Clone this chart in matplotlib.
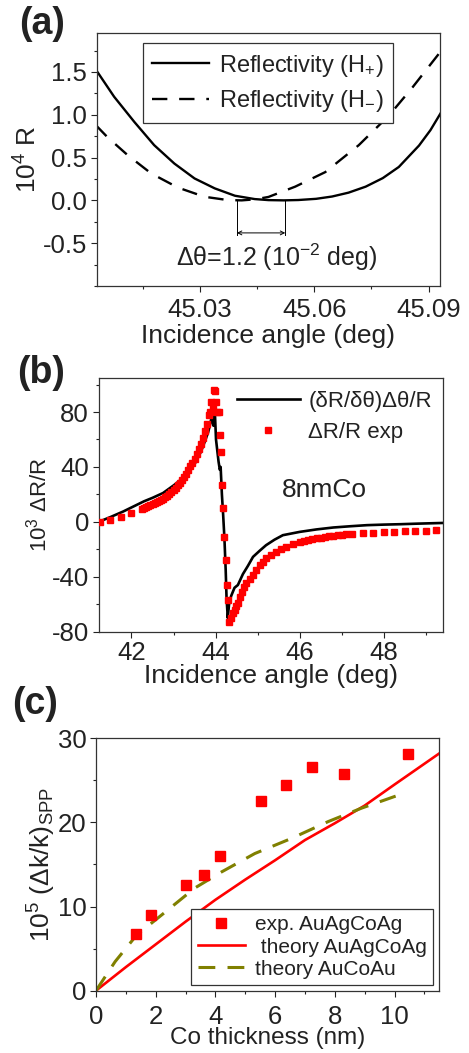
import matplotlib
matplotlib.use("Agg")
import matplotlib.pyplot as plt
from matplotlib.ticker import MultipleLocator, FormatStrFormatter

plt.rcParams['font.family'] = ['Liberation Sans', 'DejaVu Sans']
plt.rcParams['mathtext.default'] = 'regular'
plt.rcParams['axes.unicode_minus'] = False
plt.rcParams['text.color'] = '#222222'
plt.rcParams['axes.labelcolor'] = '#222222'
plt.rcParams['xtick.color'] = '#222222'
plt.rcParams['ytick.color'] = '#222222'

# (a) reflectivity around the minimum, H+ and H-
angle_plus = [45.0027, 45.0075, 45.0128, 45.018, 45.0233, 45.0286, 45.0339, 45.0392,
              45.0444, 45.048, 45.052, 45.0558, 45.0605, 45.0647, 45.069, 45.0735,
              45.078, 45.0822, 45.0875, 45.0905, 45.0932]
refl_plus = [1.527, 1.21, 0.916, 0.645, 0.43, 0.256, 0.14, 0.054,
             0.015, 0.003, 0.0, 0.004, 0.018, 0.045, 0.09, 0.16,
             0.26, 0.39, 0.64, 0.82, 1.02]
angle_minus = [45.0027, 45.0057, 45.011, 45.0172, 45.0242, 45.0312, 45.0374, 45.041,
               45.0445, 45.048, 45.055, 45.0629, 45.0717, 45.0796, 45.0858, 45.0932]
refl_minus = [0.878, 0.74, 0.53, 0.315, 0.15, 0.042, 0.003, 0.0,
              0.012, 0.04, 0.16, 0.33, 0.645, 0.99, 1.32, 1.74]
shift_left, shift_right = 45.0397, 45.0524

# (b) 8 nm Co: theory vs experiment
theo_angle = [41.22, 41.5, 41.8, 42.0, 42.3, 42.5, 42.75, 43.0, 43.25, 43.5, 43.65, 43.75,
              43.82, 43.87, 43.91, 43.95, 43.98, 44.01, 44.04, 44.07, 44.10, 44.12, 44.15,
              44.18, 44.21, 44.24, 44.26, 44.29, 44.32, 44.37, 44.45, 44.53, 44.65, 44.77,
              44.89, 45.05, 45.2, 45.4, 45.6, 45.8, 46.0, 46.4, 46.8, 47.2, 47.6, 48.0,
              48.4, 48.8, 49.4]
theo_dr = [0, 3.5, 7.5, 10.5, 15, 17.5, 21, 26.5, 32.5, 42, 51, 59,
           65, 71, 77, 70, 82, 60, 52, 44, 38, 40, 20,
           5, -12, -35, -55, -70, -60, -54, -48, -46, -38, -32,
           -25.5, -21, -17, -13, -9.7, -8.5, -7.3, -5.5, -4.1, -3.2, -2.4, -2.0,
           -1.7, -1.3, -0.8]
exp_angle = [41.25, 41.5, 41.75, 42.0, 42.25, 42.3, 42.35, 42.4, 42.45, 42.5, 42.55, 42.6,
             42.65, 42.7, 42.75, 42.8, 42.85, 42.9, 42.95, 43.0, 43.05, 43.1, 43.15, 43.2,
             43.25, 43.3, 43.35, 43.4, 43.45, 43.5, 43.55, 43.6, 43.65, 43.7, 43.75, 43.8,
             43.84, 43.87, 43.9, 43.93, 43.96, 43.98, 44.01, 44.04, 44.07, 44.1, 44.13, 44.15,
             44.18, 44.21, 44.24, 44.27, 44.3, 44.33, 44.37, 44.41, 44.45, 44.49, 44.53, 44.58,
             44.63, 44.68, 44.73, 44.81, 44.89, 44.97, 45.05, 45.13, 45.21, 45.32, 45.44, 45.56,
             45.68, 45.84, 46.0, 46.1, 46.2, 46.3, 46.4, 46.5, 46.6, 46.7, 46.8, 46.9,
             47.0, 47.1, 47.25, 47.5, 47.75, 48.0, 48.25, 48.5, 48.75, 49.0, 49.25]
exp_dr = [0, 1.5, 3.5, 6.2, 9.7, 10.3, 10.9, 11.6, 12.3, 13.0, 13.7, 14.4,
          15.1, 15.8, 16.9, 18.0, 19.1, 20.3, 21.6, 23.0, 24.7, 26.5, 28.4, 30.5,
          32.7, 35.0, 37.7, 40.5, 43.2, 46.0, 49.4, 53.0, 57.0, 61.0, 66.0, 71.5,
          78, 80, 87, 84, 96, 95, 87, 80, 80, 63, 51, 27,
          10, -11, -28, -46, -57, -73, -70, -66.6, -64, -61.5, -59.3, -55,
          -51, -47.5, -44.8, -41.5, -38.8, -35, -31.5, -29, -26.6, -24, -21.8, -20,
          -18.2, -16.2, -14.5, -13.8, -13.2, -12.6, -12.0, -11.5, -11.0, -10.6, -10.2, -9.8,
          -9.4, -9.0, -8.6, -8.2, -8.0, -7.6, -7.2, -6.9, -6.6, -6.3, -6.0]

# (c) SPP wavevector change vs Co thickness
exp_thick = [1.34, 1.83, 3.0, 3.63, 4.17, 5.52, 6.38, 7.22, 8.30, 10.45]
exp_dk = [6.7, 9.0, 12.5, 13.75, 16.05, 22.55, 24.5, 26.6, 25.8, 28.1]
agco_thick = [0, 1, 2, 3, 4, 5, 6, 7, 8, 9, 10, 11.5]
agco_dk = [0, 2.8, 5.5, 8.2, 10.8, 13.2, 15.5, 17.9, 19.9, 22.0, 24.5, 28.2]
auco_thick = [0, 0.64, 1.36, 2.2, 3.31, 4.2, 5.32, 6.55, 7.78, 8.9, 10.1]
auco_dk = [0, 3.45, 6.6, 9.0, 12.2, 14.1, 16.3, 18.1, 20.1, 21.7, 23.2]

TICK_FS = 18.5
LABEL_FS = 19


def style_axes(ax, xpad=3):
    for sp in ax.spines.values():
        sp.set_linewidth(0.9)
        sp.set_color('#333333')
    ax.tick_params(which='major', length=4, width=0.8, labelsize=TICK_FS, pad=3)
    ax.tick_params(axis='x', which='major', pad=xpad)
    ax.tick_params(which='minor', length=2.5, width=0.8)


fig = plt.figure(figsize=(4.69, 10.53), dpi=100)

# ---- (a)
ax = fig.add_axes([0.2068, 0.7284, 0.7313, 0.2403])
ax.plot(angle_plus, refl_plus, color='black', lw=1.7, label='Reflectivity (H$_{{+}}$)')
ax.plot(angle_minus, refl_minus, color='black', lw=1.7, dashes=(6.5, 5),
        label='Reflectivity (H$_{{-}}$)')
for xv in (shift_left, shift_right):
    ax.plot([xv, xv], [0, -0.4], color='black', lw=0.7)
ax.annotate('', xy=(shift_left, -0.38), xytext=(shift_right, -0.38),
            arrowprops=dict(arrowstyle='<->', lw=0.7, color='black',
                            mutation_scale=7, shrinkA=0, shrinkB=0))
ax.text(45.0502, -0.66, 'Δθ=1.2 (10$^{-2}$ deg)', fontsize=18, ha='center', va='center')
ax.set_xlim(45.003, 45.093)
ax.set_ylim(-1.0, 1.955)
ax.set_xticks([45.03, 45.06, 45.09])
ax.xaxis.set_major_formatter(FormatStrFormatter('%.2f'))
ax.xaxis.set_minor_locator(MultipleLocator(0.015))
ax.set_yticks([-0.5, 0.0, 0.5, 1.0, 1.5])
ax.yaxis.set_major_formatter(FormatStrFormatter('%.1f'))
ax.yaxis.set_minor_locator(MultipleLocator(0.25))
ax.set_xlabel('Incidence angle (deg)', fontsize=LABEL_FS, labelpad=1)
ax.set_ylabel('10$^4$ R', fontsize=LABEL_FS, labelpad=1)
style_axes(ax, xpad=5)
leg = ax.legend(loc='upper left', bbox_to_anchor=(0.134, 0.96), borderaxespad=0,
                fontsize=17, fancybox=False, framealpha=1, edgecolor='#333333',
                handlelength=2.4, handletextpad=0.4, borderpad=0.4, labelspacing=0.4)
leg.get_frame().set_linewidth(0.9)
fig.text(0.040, 0.994, '(a)', fontsize=27, fontweight='bold', va='top')

# ---- (b)
ax = fig.add_axes([0.2104, 0.4001, 0.7335, 0.2412])
ax.plot(theo_angle, theo_dr, color='black', lw=1.9, label='(δR/δθ)Δθ/R', zorder=2)
ax.plot(exp_angle, exp_dr, ls='none', marker='s', ms=4.4, color='red', mec='red',
        label='ΔR/R exp', zorder=3)
ax.text(45.58, 23, '8nmCo', fontsize=19, ha='left', va='center')
ax.set_xlim(41.22, 49.4)
ax.set_ylim(-80, 105)
ax.set_xticks([42, 44, 46, 48])
ax.xaxis.set_minor_locator(MultipleLocator(1))
ax.set_yticks([-80, -40, 0, 40, 80])
ax.yaxis.set_minor_locator(MultipleLocator(20))
ax.set_xlabel('Incidence angle (deg)', fontsize=LABEL_FS, labelpad=-1)
ax.set_ylabel('10$^3$ ΔR/R', fontsize=16, labelpad=0)
style_axes(ax, xpad=3)
ax.legend(loc='upper right', bbox_to_anchor=(0.995, 0.983), borderaxespad=0,
          frameon=False, fontsize=16, handlelength=2.8, handletextpad=0.4,
          numpoints=1, labelspacing=0.45)
fig.text(0.036, 0.663, '(b)', fontsize=27, fontweight='bold', va='top')

# ---- (c)
ax = fig.add_axes([0.2047, 0.0592, 0.732, 0.2397])
ax.plot(exp_thick, exp_dk, ls='none', marker='s', ms=7, color='red', mec='red',
        label='exp. AuAgCoAg', zorder=3)
ax.plot(agco_thick, agco_dk, color='red', lw=1.9, label=' theory AuAgCoAg')
ax.plot(auco_thick, auco_dk, color='#808000', lw=2.2, dashes=(5.5, 4),
        label='theory AuCoAu')
ax.set_xlim(0, 11.5)
ax.set_ylim(0, 30)
ax.set_xticks([0, 2, 4, 6, 8, 10])
ax.xaxis.set_minor_locator(MultipleLocator(1))
ax.set_yticks([0, 10, 20, 30])
ax.yaxis.set_minor_locator(MultipleLocator(5))
ax.set_xlabel('Co thickness (nm)', fontsize=17.5, labelpad=-1)
ax.set_ylabel('10$^5$ (Δk/k)$_{SPP}$', fontsize=LABEL_FS, labelpad=0)
style_axes(ax, xpad=6)
leg = ax.legend(loc='lower right', bbox_to_anchor=(0.982, 0.0226), borderaxespad=0,
                fontsize=15, fancybox=False, framealpha=1, edgecolor='#333333',
                handlelength=2.25, handletextpad=0.5, borderpad=0.3, labelspacing=0.15,
                numpoints=1)
leg.get_frame().set_linewidth(0.9)
fig.text(0.026, 0.349, '(c)', fontsize=27, fontweight='bold', va='top')

fig.savefig('out.png', dpi=100)
